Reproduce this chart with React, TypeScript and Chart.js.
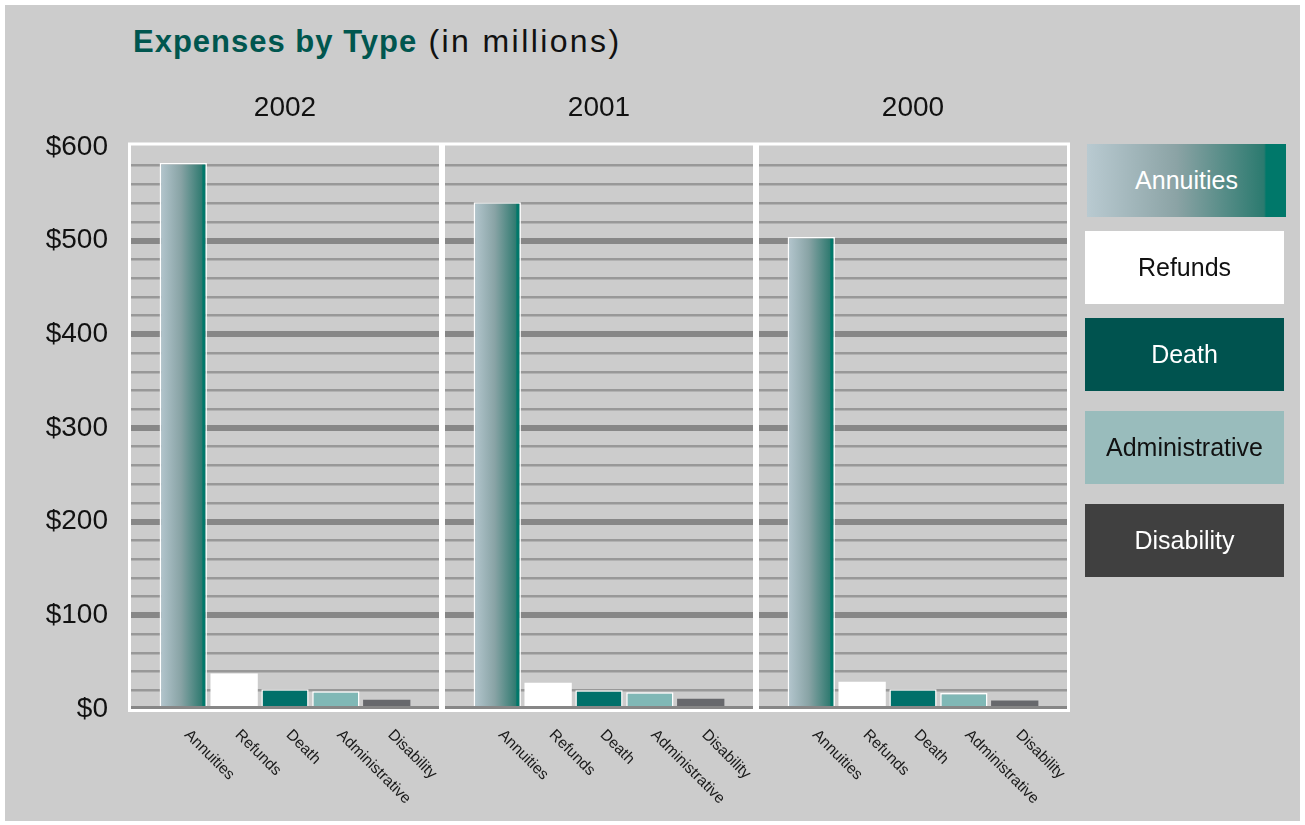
import React, { useEffect, useRef } from 'react';
import { Chart, registerables } from 'chart.js';

Chart.register(...registerables);

// ---- data ----
const years = ['2002', '2001', '2000'];
const types = ['Annuities', 'Refunds', 'Death', 'Administrative', 'Disability'];
const annuities = [583, 541, 504];
const refunds = [38, 28, 29];
const death = [21, 20, 21];
const administrative = [19, 18, 17];
const disability = [10, 11, 9];
const yMax = 600;
const yStep = 20;
const yLabelStep = 100;

const seriesValues = [annuities, refunds, death, administrative, disability];

// ---- styles ----
const FONT = '"Liberation Sans", Arial, Helvetica, sans-serif';
const barFill = ['#6f9694', '#ffffff', '#00706a', '#80b8b6', '#67686c'];
const barBorderWidth = [1.5, 0, 1.5, 1.5, 0];
const legendFill = [
  'linear-gradient(to right, #b9cad1 0%, #8ba3a5 45%, #2b7a6f 89%, #00786a 90%, #00786a 100%)',
  '#ffffff',
  '#00534f',
  '#99bcbc',
  '#404040',
];
const legendTextColor = ['#ffffff', '#111111', '#ffffff', '#111111', '#ffffff'];
const legendLeft = [1087, 1085, 1085, 1085, 1085];
const legendTop = [144, 231, 318, 411, 504];

const annuityFill = (c: any) => {
  const el = c.element;
  if (!el || el.x == null || !isFinite(el.x) || !el.width) return barFill[0];
  const l = el.x - el.width / 2;
  const r = el.x + el.width / 2;
  const g = c.chart.ctx.createLinearGradient(l, 0, r, 0);
  g.addColorStop(0, '#b5c7cf');
  g.addColorStop(0.45, '#88a3a5');
  g.addColorStop(0.9, '#2f7a70');
  g.addColorStop(0.91, '#00786a');
  g.addColorStop(1, '#00786a');
  return g;
};

const panelPlugin = {
  id: 'panels',
  beforeDatasetsDraw(chart: any) {
    const { ctx, scales } = chart;
    const x = scales.x;
    const y = scales.y;
    const half = (x.getPixelForValue(1) - x.getPixelForValue(0)) / 2;
    const top = y.getPixelForValue(yMax) - 3;
    const bottom = y.getPixelForValue(0) + 1.5;
    ctx.save();
    ctx.strokeStyle = '#ffffff';
    ctx.lineWidth = 3;
    years.forEach((_, i) => {
      const cx = x.getPixelForValue(i);
      ctx.strokeRect(cx - half + 1.5, top, 2 * half - 3, bottom - top);
    });
    ctx.restore();
  },
};

const typeLabelPlugin = {
  id: 'typeLabels',
  afterDatasetsDraw(chart: any) {
    const { ctx, chartArea } = chart;
    chart.data.datasets.forEach((ds: any, di: number) => {
      const meta = chart.getDatasetMeta(di);
      meta.data.forEach((bar: any) => {
        ctx.save();
        ctx.translate(bar.x + 9, chartArea.bottom + 18);
        ctx.rotate(Math.PI / 4);
        ctx.font = `15.5px ${FONT}`;
        ctx.fillStyle = '#1a1a1a';
        ctx.textAlign = 'left';
        ctx.textBaseline = 'top';
        ctx.fillText(ds.label, 0, 0);
        ctx.restore();
      });
    });
  },
};

export default function App() {
  const ref = useRef<HTMLCanvasElement | null>(null);

  useEffect(() => {
    document.body.style.margin = '0';
    if (!ref.current) return;
    const chart = new Chart(ref.current, {
      type: 'bar',
      data: {
        labels: years,
        datasets: types.map((t, i) => ({
          label: t,
          data: seriesValues[i],
          backgroundColor: i === 0 ? annuityFill : barFill[i],
          borderColor: '#ffffff',
          borderWidth: barBorderWidth[i],
          categoryPercentage: 0.81,
          barPercentage: 0.93,
        })),
      },
      options: {
        responsive: false,
        animation: false,
        events: [],
        layout: { padding: { left: 0, right: 235, top: 0, bottom: 116 } },
        plugins: {
          legend: { display: false },
          tooltip: { enabled: false },
        },
        scales: {
          x: {
            position: 'top',
            grid: { display: false },
            border: { display: false },
            ticks: {
              font: { family: FONT, size: 28 },
              color: '#111111',
              padding: 14,
            },
            afterFit: (s: any) => {
              s.height = 147;
            },
          },
          y: {
            min: 0,
            max: yMax,
            border: { display: false },
            grid: {
              drawTicks: false,
              color: (c: any) =>
                c.tick.value === yMax
                  ? 'rgba(0,0,0,0)'
                  : c.tick.value % yLabelStep === 0
                  ? '#878787'
                  : '#989898',
              lineWidth: (c: any) => (c.tick.value % yLabelStep === 0 ? 6 : 2.5),
            },
            ticks: {
              stepSize: yStep,
              autoSkip: false,
              font: { family: FONT, size: 28 },
              color: '#111111',
              padding: 20,
              callback: (v: any) => (Number(v) % yLabelStep === 0 ? '$' + v : ''),
            },
            afterFit: (s: any) => {
              s.width = 128;
            },
          },
        },
      } as any,
      plugins: [panelPlugin, typeLabelPlugin],
    });
    chart.update();
    return () => chart.destroy();
  }, []);

  return (
    <div style={{ position: 'relative', width: 1305, height: 825, overflow: 'hidden', background: '#ffffff' }}>
      <div style={{ position: 'absolute', left: 5, top: 5, width: 1295, height: 816, background: '#cccccc' }} />
      <div
        style={{
          position: 'absolute',
          left: 133,
          top: 26,
          lineHeight: '31px',
          whiteSpace: 'nowrap',
          fontFamily: FONT,
        }}
      >
        <span style={{ fontWeight: 'bold', fontSize: 31, letterSpacing: 1, color: '#00564f' }}>Expenses by Type</span>
        <span style={{ fontSize: 32, letterSpacing: 2.4, color: '#111111' }}> (in millions)</span>
      </div>
      <canvas ref={ref} width={1305} height={825} style={{ position: 'absolute', left: 0, top: 0 }} />
      {types.map((t, i) => (
        <div
          key={t}
          style={{
            position: 'absolute',
            left: legendLeft[i],
            top: legendTop[i],
            width: 199,
            height: 73,
            background: legendFill[i],
            color: legendTextColor[i],
            fontFamily: FONT,
            fontSize: 25,
            display: 'flex',
            alignItems: 'center',
            justifyContent: 'center',
          }}
        >
          {t}
        </div>
      ))}
    </div>
  );
}
